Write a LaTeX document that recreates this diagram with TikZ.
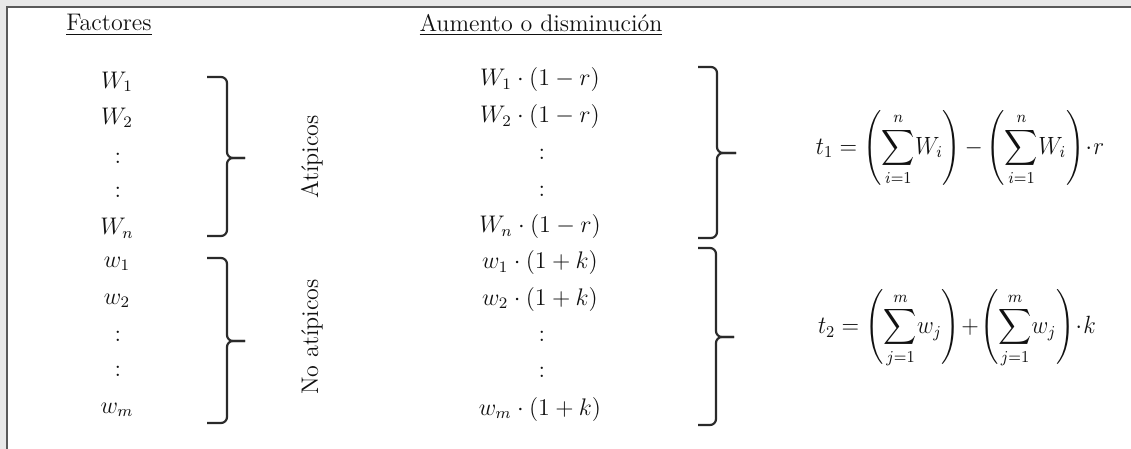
\documentclass[tikz,border=0pt]{standalone}
\usepackage{amsmath}
\definecolor{ink}{HTML}{111111}
\definecolor{brcol}{HTML}{2A2A2A}
\newcommand\rbrc[6]{% xl xv xt yt ym yb
  \draw[brc] (#1,#4) -- (#2,#4) -- (#2,#5) -- (#3,#5);
  \draw[brc] (#1,#6) -- (#2,#6) -- (#2,#5) -- (#3,#5);}
\begin{document}
\begin{tikzpicture}[x=0.5pt,y=-0.5pt,
  every node/.style={font=\large, inner sep=0pt, text=ink},
  brc/.style={draw=brcol, line width=1.1pt, rounded corners=3pt},
  vlab/.style={rotate=90},
  formula/.style={font=\fontsize{11.5}{14}\selectfont, xscale=0.96, yscale=1.04, transform shape}]
\useasboundingbox (0,0) rectangle (1131,449);
\fill[black!9] (0,0) rectangle (1131,6);
\fill[black!9] (0,0) rectangle (6,449);
\draw[black!65, line width=0.8pt] (7,449) -- (7,7) -- (1131,7);

% headers
\node (hf) at (109,25) {\underline{Factores}};
\node (ha) at (541,25) {\underline{Aumento o disminución}};

% left column
\node (a1) at (117,82) {$W_1$};
\node (a2) at (117,118) {$W_2$};
\node (a3) at (118,158) {$:$};
\node (a4) at (118,192) {$:$};
\node (an) at (117,228) {$W_n$};
\node (b1) at (117,264) {$w_1$};
\node (b2) at (117,301) {$w_2$};
\node (b3) at (118,336) {$:$};
\node (b4) at (118,371) {$:$};
\node (bm) at (117,410) {$w_m$};

% braces left
\rbrc{207}{227}{245}{77}{158}{236}
\rbrc{207}{227}{245}{258}{341}{423}

% rotated labels
\node[vlab] (at) at (312,157) {Atípicos};
\node[vlab] (nat) at (312,337) {No atípicos};

% middle column
\node (c1) at (540,80) {$W_1\cdot(1-r)$};
\node (c2) at (540,117) {$W_2\cdot(1-r)$};
\node (c3) at (542,154) {$:$};
\node (c4) at (542,191) {$:$};
\node (cn) at (540,227) {$W_n\cdot(1-r)$};
\node (d1) at (540,263) {$w_1\cdot(1+k)$};
\node (d2) at (540,299) {$w_2\cdot(1+k)$};
\node (d3) at (542,336) {$:$};
\node (d4) at (542,372) {$:$};
\node (dm) at (540,409) {$w_m\cdot(1+k)$};

% braces right
\rbrc{698}{717}{736}{67}{153}{238}
\rbrc{698}{716}{734}{248}{337}{425}

% formulas
\node[formula] (t1) at (960,148) {$\displaystyle t_1=\left(\sum_{i=1}^{n}\!W_i\right)\mathord{-}\left(\sum_{i=1}^{n}\!W_i\right)\!\cdot\! r$};
\node[formula] (t2) at (957,329) {$\displaystyle t_2=\left(\sum_{j=1}^{m}\!w_j\right)\!+\!\left(\sum_{j=1}^{m}\!w_j\right)\!\cdot\! k$};
\end{tikzpicture}
\end{document}
